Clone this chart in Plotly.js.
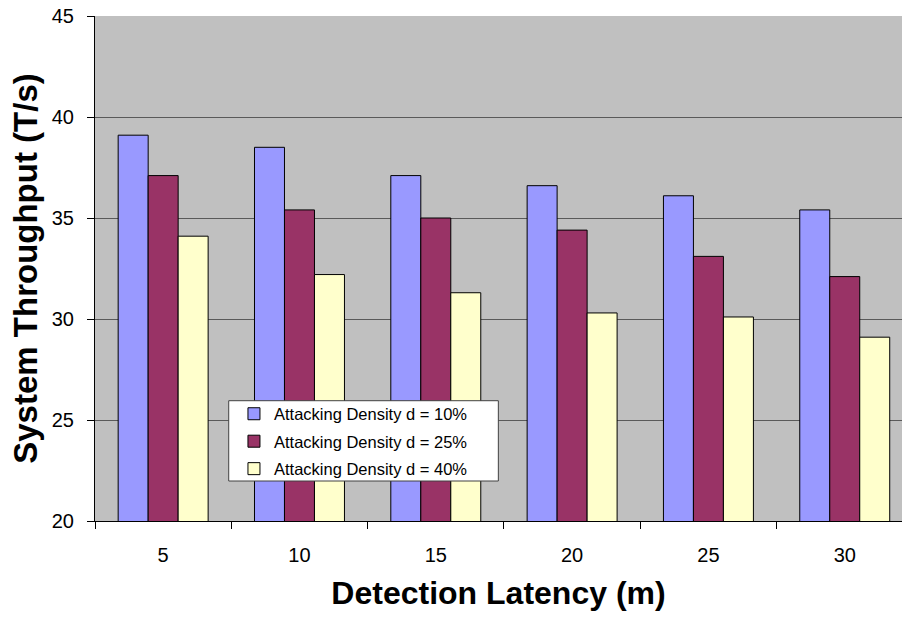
<!DOCTYPE html>
<html>
<head>
<meta charset="utf-8">
<script src="https://cdn.plot.ly/plotly-3.0.1.min.js"></script>
<style>html,body{margin:0;padding:0;background:#fff;}#chart{width:902px;height:617px;}</style>
</head>
<body>
<div id="chart"></div>
<script>
var categories = ["5", "10", "15", "20", "25", "30"];
var seriesNames = ["Attacking Density d = 10%", "Attacking Density d = 25%", "Attacking Density d = 40%"];
var density10 = [39.1, 38.5, 37.1, 36.6, 36.1, 35.4];
var density25 = [37.1, 35.4, 35.0, 34.4, 33.1, 32.1];
var density40 = [34.1, 32.2, 31.3, 30.3, 30.1, 29.1];
var yTicks = [20, 25, 30, 35, 40, 45];

var colors = ["#9999FF", "#993366", "#FFFFCC"];
var values = [density10, density25, density40];

var traces = values.map(function (v, i) {
  return {
    type: "bar",
    x: categories,
    y: v,
    name: seriesNames[i],
    legendgroup: "g" + i,
    marker: { color: colors[i], line: { color: "#000", width: 1 } },
    hoverinfo: "x+y+name"
  };
});

var FONT = "Liberation Sans, Arial, sans-serif";

var layout = {
  width: 902,
  height: 617,
  margin: { l: 95, r: 0, t: 16, b: 96 },
  paper_bgcolor: "#fff",
  plot_bgcolor: "#C0C0C0",
  barmode: "group",
  bargap: 0.34,
  bargroupgap: 0,
  font: { family: FONT, color: "#000" },
  xaxis: {
    type: "category",
    range: [-0.5, 5.42],
    tickson: "boundaries",
    ticks: "outside",
    ticklen: 7,
    tickcolor: "#000",
    showline: true,
    linecolor: "#000",
    linewidth: 1,
    showgrid: false,
    tickfont: { size: 20 },
    ticklabelstandoff: 16,
    title: { text: "Detection Latency (m)", font: { size: 32, family: FONT, weight: "bold" }, standoff: 16 }
  },
  yaxis: {
    range: [20, 45],
    tickvals: yTicks,
    ticks: "outside",
    ticklen: 7,
    tickcolor: "#000",
    showline: true,
    linecolor: "#000",
    linewidth: 1,
    showgrid: true,
    gridcolor: "#5a5a5a",
    gridwidth: 1,
    zeroline: false,
    tickfont: { size: 20 },
    ticklabelstandoff: 9,
    title: { text: "System Throughput (T/s)", font: { size: 33, family: FONT, weight: "bold" }, standoff: 4 }
  },
  shapes: [{
    type: "rect",
    xref: "paper", yref: "paper",
    x0: 0.1657, x1: 0.4998, y0: 0.0792, y1: 0.2382,
    fillcolor: "#fff",
    line: { color: "#404040", width: 1 },
    layer: "above"
  }],
  showlegend: true,
  legend: {
    x: 0.1722,
    y: 0.2465,
    xanchor: "left",
    yanchor: "top",
    bgcolor: "rgba(0,0,0,0)",
    borderwidth: 0,
    font: { size: 16.5 },
    traceorder: "grouped",
    tracegroupgap: 3
  }
};

Plotly.newPlot("chart", traces, layout, { displayModeBar: false, staticPlot: true });
</script>
</body>
</html>
